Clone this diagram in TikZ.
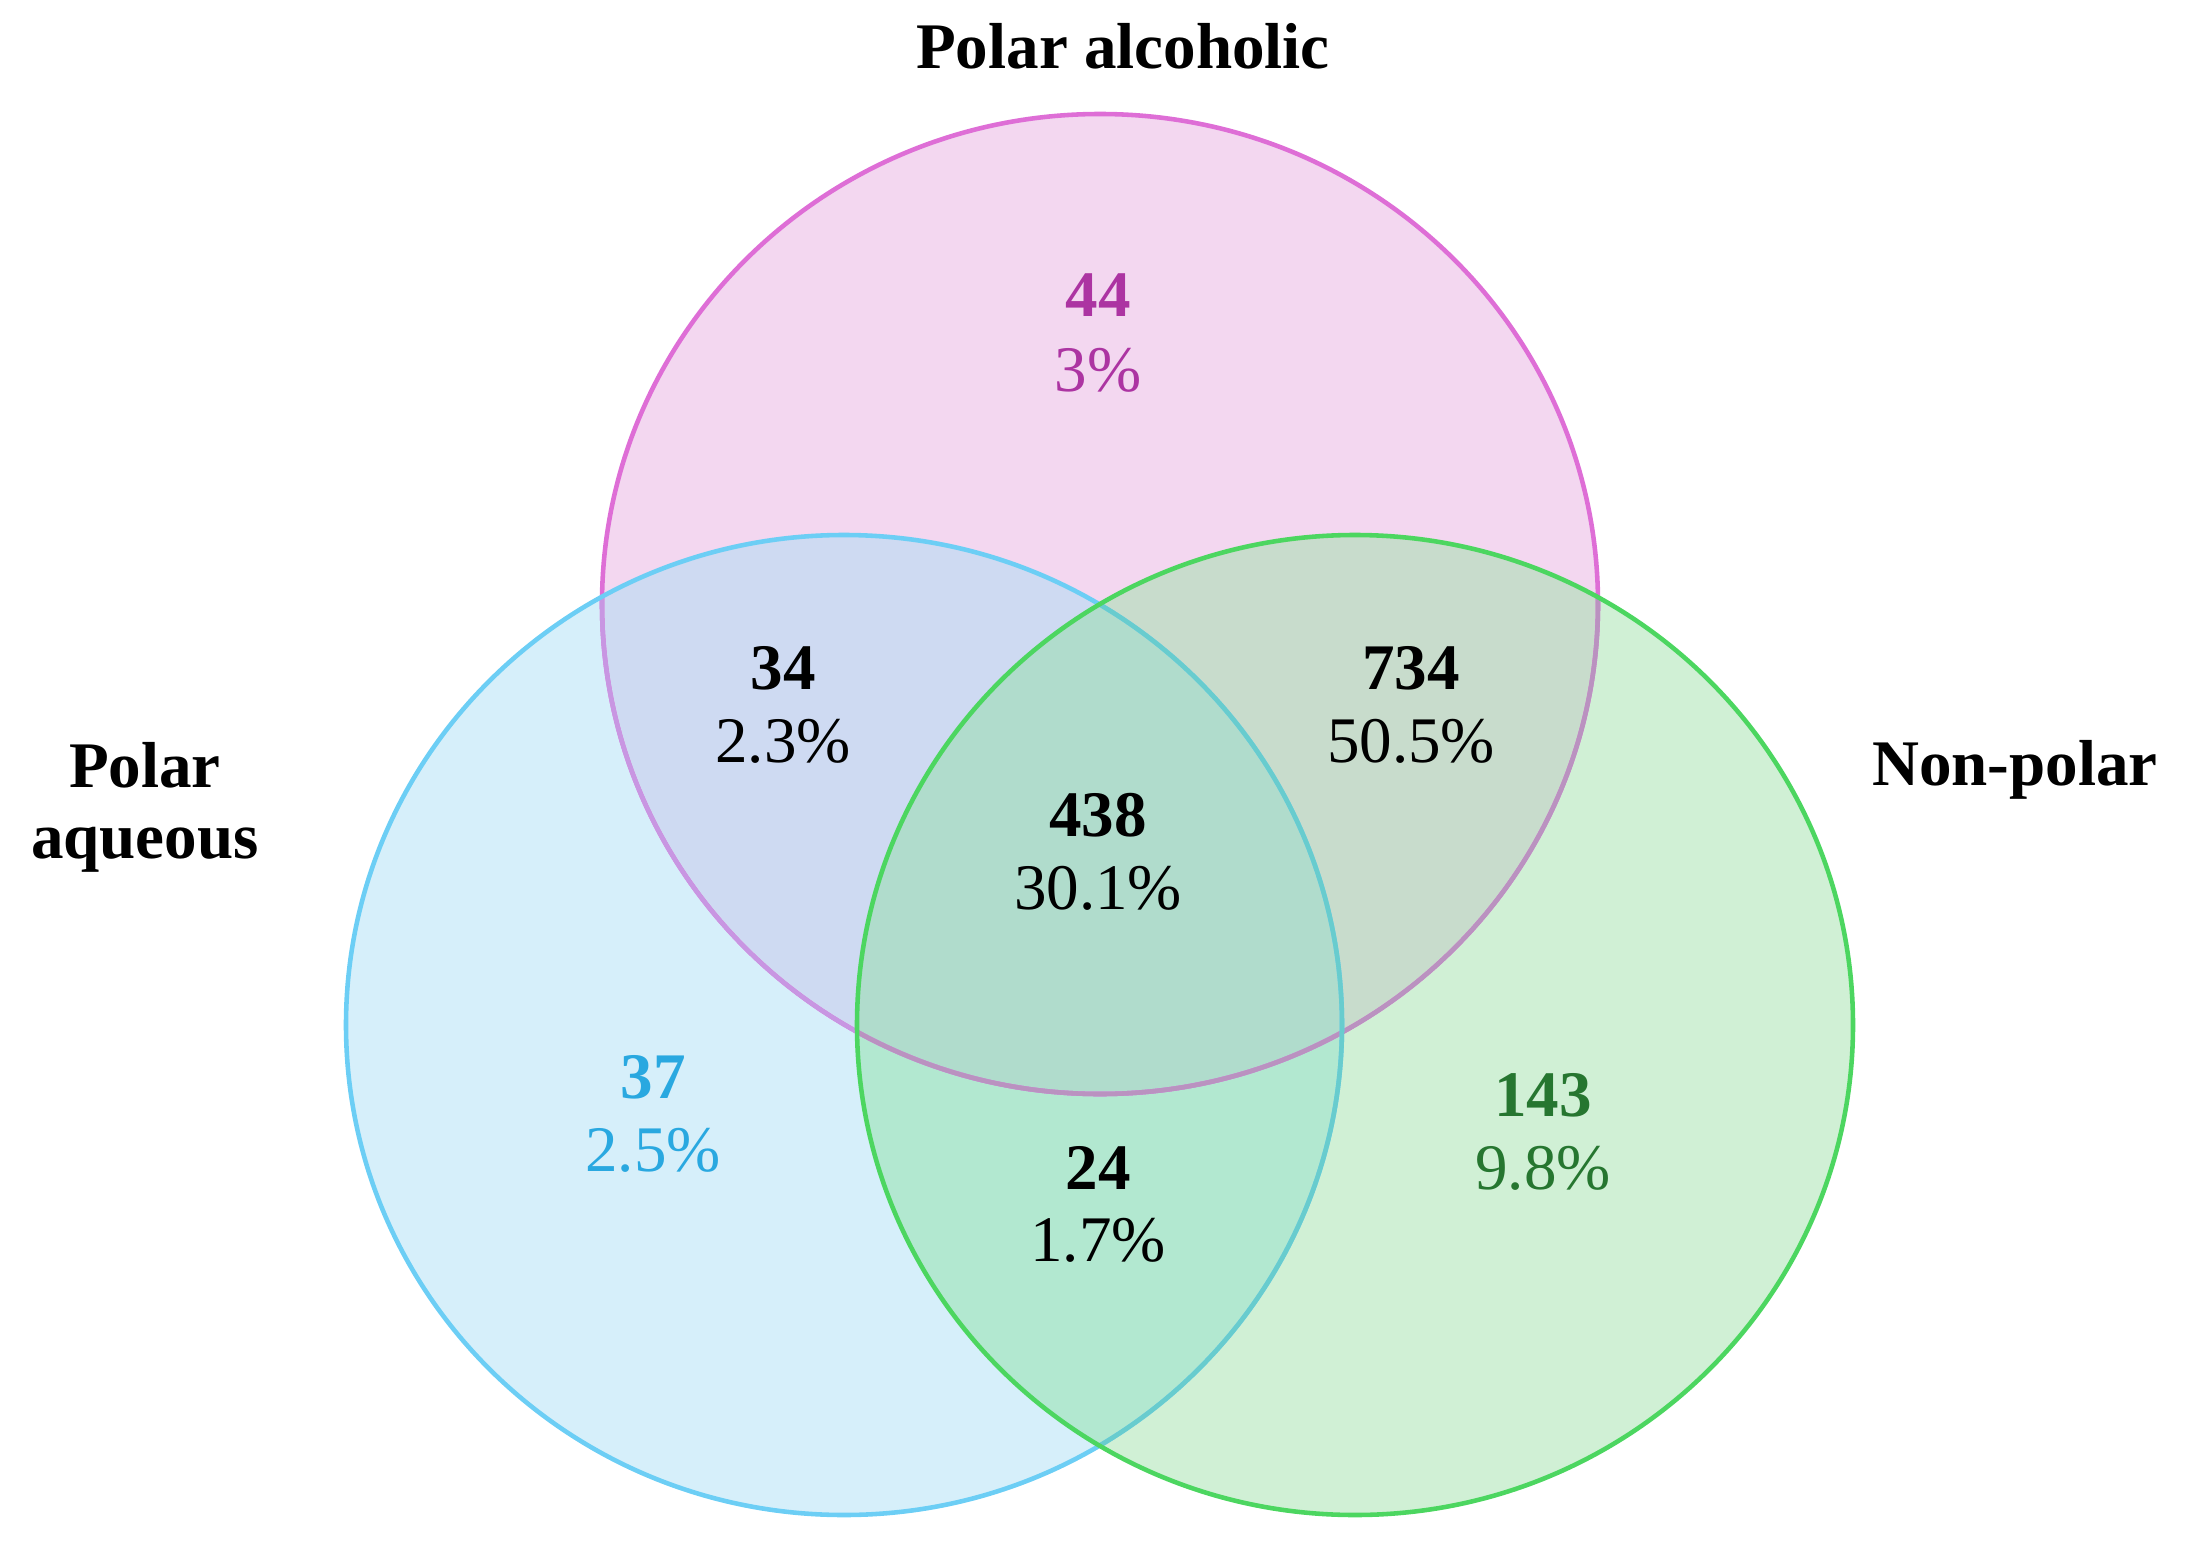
\documentclass[tikz,border=0pt]{standalone}
\usepackage{fontspec}
\setmainfont{Liberation Serif}
% region fills
\definecolor{fillp}{RGB}{243,215,240}
\definecolor{fillb}{RGB}{214,239,250}
\definecolor{fillg}{RGB}{208,240,213}
\definecolor{fillpb}{RGB}{206,218,242}
\definecolor{fillpg}{RGB}{200,220,204}
\definecolor{fillbg}{RGB}{178,232,208}
\definecolor{fillpbg}{RGB}{176,220,204}
% outlines
\definecolor{pinkline}{RGB}{222,110,214}
\definecolor{blueline}{RGB}{108,206,245}
\definecolor{greenline}{RGB}{76,214,96}
\definecolor{pinkinblue}{RGB}{200,150,226}
\definecolor{pinkingreen}{RGB}{186,146,192}
\definecolor{blueingreen}{RGB}{104,204,206}
% texts
\definecolor{pinktext}{RGB}{172,52,162}
\definecolor{bluetext}{RGB}{41,168,224}
\definecolor{greentext}{RGB}{38,118,48}
\tikzset{
  outline/.style={line width=1.3pt},
  lab/.style={font=\fontsize{18.5}{21}\selectfont\bfseries, inner sep=0pt, anchor=base},
  num/.style={font=\fontsize{18.5}{21}\selectfont\bfseries, inner sep=0pt},
  pct/.style={font=\fontsize{18.5}{21}\selectfont, inner sep=0pt},
  ell/.style={x radius=4.98, y radius=4.90},
}
\begin{document}
\begin{tikzpicture}
\useasboundingbox (0,0) rectangle (21.93,-15.5);
\coordinate (cp) at (11.00,-6.04);
\coordinate (cb) at (8.44,-10.25);
\coordinate (cg) at (13.55,-10.25);
% single-set fills
\fill[fillp] (cp) ellipse [ell];
\fill[fillb] (cb) ellipse [ell];
\fill[fillg] (cg) ellipse [ell];
% pairwise overlaps
\begin{scope}
  \clip (cp) ellipse [ell];
  \fill[fillpb] (cb) ellipse [ell];
  \fill[fillpg] (cg) ellipse [ell];
\end{scope}
\begin{scope}
  \clip (cb) ellipse [ell];
  \fill[fillbg] (cg) ellipse [ell];
\end{scope}
% triple overlap
\begin{scope}
  \clip (cp) ellipse [ell];
  \clip (cb) ellipse [ell];
  \fill[fillpbg] (cg) ellipse [ell];
\end{scope}
% outlines
\draw[outline, pinkline] (cp) ellipse [ell];
\begin{scope}
  \clip (cb) ellipse [ell];
  \draw[outline, pinkinblue] (cp) ellipse [ell];
\end{scope}
\begin{scope}
  \clip (cg) ellipse [ell];
  \draw[outline, pinkingreen] (cp) ellipse [ell];
\end{scope}
\draw[outline, blueline] (cb) ellipse [ell];
\begin{scope}
  \clip (cg) ellipse [ell];
  \draw[outline, blueingreen] (cb) ellipse [ell];
\end{scope}
\draw[outline, greenline] (cg) ellipse [ell];
% set labels
\node[lab] (lpa) at (11.23,-0.68) {Polar alcoholic};
\node[lab] (laq1) at (1.45,-7.87) {Polar};
\node[lab] (laq2) at (1.45,-8.58) {aqueous};
\node[lab] (lnp) at (20.15,-7.85) {Non-polar};
% region values
\node[num, text=pinktext] (n44) at (10.98,-2.95) {44};
\node[pct, text=pinktext] (p44) at (10.98,-3.70) {3\%};
\node[num] (n34) at (7.83,-6.68) {34};
\node[pct] (p34) at (7.83,-7.41) {2.3\%};
\node[num] (n734) at (14.11,-6.68) {734};
\node[pct] (p734) at (14.11,-7.41) {50.5\%};
\node[num] (n438) at (10.98,-8.15) {438};
\node[pct] (p438) at (10.98,-8.88) {30.1\%};
\node[num, text=bluetext] (n37) at (6.53,-10.77) {37};
\node[pct, text=bluetext] (p37) at (6.53,-11.50) {2.5\%};
\node[num, text=greentext] (n143) at (15.43,-10.95) {143};
\node[pct, text=greentext] (p143) at (15.43,-11.68) {9.8\%};
\node[num] (n24) at (10.98,-11.68) {24};
\node[pct] (p24) at (10.98,-12.40) {1.7\%};
\end{tikzpicture}
\end{document}
